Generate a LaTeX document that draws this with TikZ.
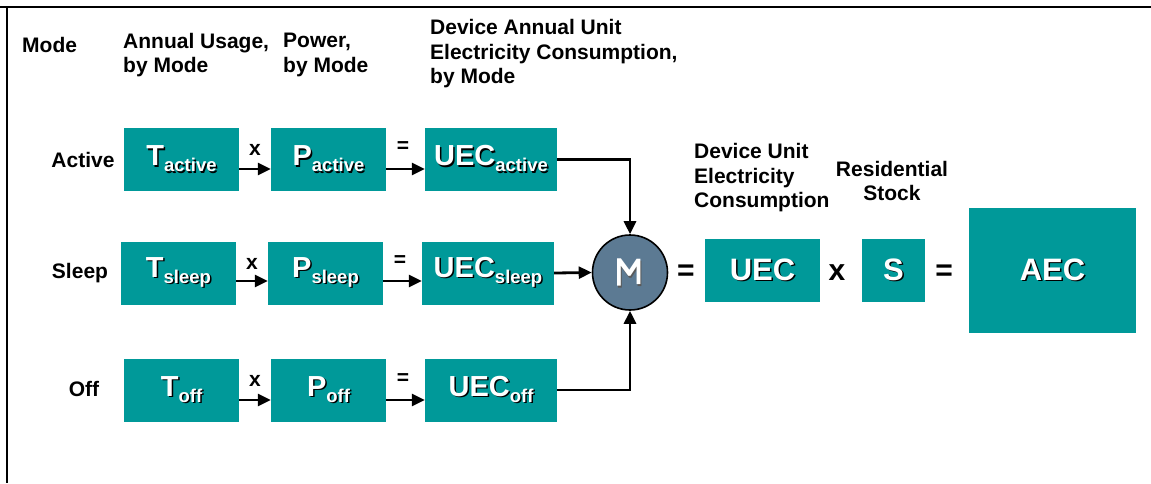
\documentclass[tikz,border=0pt]{standalone}
\usepackage{fontspec}
\setmainfont{Liberation Sans}
\usetikzlibrary{arrows.meta}
\definecolor{tealbox}{RGB}{0,153,153}
\definecolor{slate}{RGB}{92,122,147}
\newcommand{\shd}[1]{\makebox[0pt][l]{\hspace{1.5pt}\raisebox{-1.5pt}{\color{black}#1}}#1}
\newcommand{\sbs}[1]{\raisebox{-6pt}{\fontsize{18.5}{18}\selectfont #1}}
\begin{document}
\begin{tikzpicture}[x=1pt,y=-1pt,
  box/.style={fill=tealbox, draw=none, inner sep=0pt, minimum height=63pt, text=white,
    font=\fontsize{29}{30}\selectfont\bfseries},
  hdr/.style={anchor=west, align=left, inner sep=0pt, font=\fontsize{21}{24.5}\selectfont\bfseries},
  lbl/.style={inner sep=0pt, font=\fontsize{21}{22}\selectfont\bfseries},
  op/.style={inner sep=0pt, font=\fontsize{21}{22}\selectfont\bfseries},
  bigop/.style={inner sep=0pt, font=\fontsize{30}{30}\selectfont\bfseries},
  arr/.style={line width=2.8pt, -{Triangle[length=13pt,width=12pt]}}]
\useasboundingbox (0,0) rectangle (1151,483);
% frame
\draw[line width=2pt] (0,7) -- (1151,7);
\draw[line width=2pt] (7,7) -- (7,483);
% headers
\node[hdr] (hmode) at (22,45) {Mode};
\node[hdr] (husage) at (123,55) {Annual Usage,\\by Mode};
\node[hdr] (hpower) at (283,55) {Power,\\by Mode};
\node[hdr] (hdev) at (430,54) {Device Annual Unit\\Electricity Consumption,\\by Mode};
\node[hdr] (hunit) at (694,178) {Device Unit\\Electricity\\Consumption};
\node[inner sep=0pt, align=center, font=\fontsize{21}{24}\selectfont\bfseries] (hstock) at (892,181) {Residential\\Stock};
% row labels
\node[lbl] (lact) at (83,160) {Active};
\node[lbl] (lslp) at (80,273) {Sleep};
\node[lbl] (loff) at (84,389) {Off};
% active row
\node[box, minimum width=115pt] (Ta) at (181.5,159.5) {\shd{T\sbs{active}}};
\node[box, minimum width=115pt] (Pa) at (328.5,159.5) {\shd{P\sbs{active}}};
\node[box, minimum width=132pt] (Ua) at (491,159.5) {\shd{UEC\sbs{active}}};
% sleep row
\node[box, minimum width=115pt] (Ts) at (178.5,273) {\shd{T\sbs{sleep}}};
\node[box, minimum width=115pt] (Ps) at (325.5,273) {\shd{P\sbs{sleep}}};
\node[box, minimum width=132pt] (Us) at (488,273) {\shd{UEC\sbs{sleep}}};
% off row
\node[box, minimum width=115pt] (To) at (181.5,390) {\shd{T\sbs{off}}};
\node[box, minimum width=115pt] (Po) at (328.5,390) {\shd{P\sbs{off}}};
\node[box, minimum width=132pt] (Uo) at (491,390) {\shd{UEC\sbs{off}}};
% operators in rows
\node[op] (xa) at (255,150) {x};
\node[op] (ea) at (403,147) {=};
\node[op] (xs) at (252,264) {x};
\node[op] (es) at (400,261) {=};
\node[op] (xo) at (255,381) {x};
\node[op] (eo) at (403,379) {=};
% row arrows
\draw[arr] ([yshift=-9.5pt]Ta.east) -- ([yshift=-9.5pt]Pa.west);
\draw[arr] ([yshift=-9.5pt]Pa.east) -- ([yshift=-9.5pt]Ua.west);
\draw[arr] ([yshift=-8pt]Ts.east) -- ([yshift=-8pt]Ps.west);
\draw[arr] ([yshift=-8pt]Ps.east) -- ([yshift=-8pt]Us.west);
\draw[arr] ([yshift=-10pt]To.east) -- ([yshift=-10pt]Po.west);
\draw[arr] ([yshift=-10pt]Po.east) -- ([yshift=-10pt]Uo.west);
% summation
\node[circle, minimum size=75pt, inner sep=0pt, fill=slate, draw=black, line width=1.6pt] (sig) at (630,272.5) {};
\node[rotate=-90, inner sep=0pt, text=white, font=\fontsize{40}{40}\selectfont\bfseries] (sigtxt) at (sig.center) {\scalebox{1.3}[0.85]{\makebox[0pt][l]{\hspace{1.5pt}\raisebox{1.5pt}{\color{gray!70!black}Σ}}Σ}};
\draw[arr] (Ua.east) -| (sig.north);
\draw[arr] (Us.east) -- (sig.west);
\draw[arr] (Uo.east) -| (sig.south);
% right part
\node[bigop] (e1) at (686,273) {=};
\node[box, minimum width=115pt, font=\fontsize{31}{32}\selectfont\bfseries] (U) at (762.5,270.5) {\shd{UEC}};
\node[bigop] (x1) at (837,273) {x};
\node[box, minimum width=63pt, font=\fontsize{31}{32}\selectfont\bfseries] (S) at (893.5,270.5) {\shd{S}};
\node[bigop] (e2) at (944,273) {=};
\node[box, minimum width=167pt, minimum height=125pt, font=\fontsize{31}{32}\selectfont\bfseries] (AEC) at (1052.5,270.5) {\shd{AEC}};
\end{tikzpicture}
\end{document}
